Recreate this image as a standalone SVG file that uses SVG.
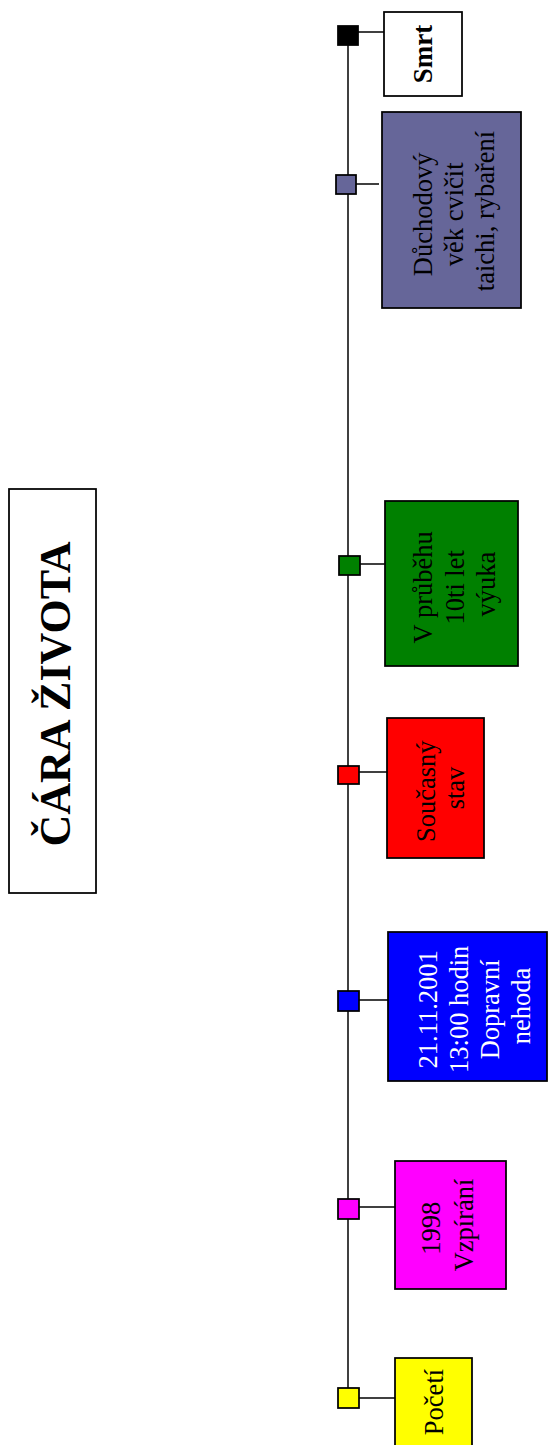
<svg xmlns="http://www.w3.org/2000/svg" width="548" height="1445" viewBox="0 0 548 1445">
  <style>
    .box { stroke: #000; stroke-width: 1.75; }
    .dot { stroke: #000; stroke-width: 1.75; }
    .link { stroke: #000; stroke-width: 1.5; fill: none; }
    .lbl { font-family: "Liberation Serif", "Times New Roman", serif; font-size: 26.5px; text-anchor: middle; fill: #000; }
    .light { fill: #fff; }
    .strong { font-weight: bold; font-size: 27px; }
    .title { font-family: "Liberation Serif", "Times New Roman", serif; font-size: 44px; font-weight: bold; text-anchor: middle; fill: #000; }
  </style>
  <rect width="548" height="1445" fill="#fff"/>

  <!-- heading -->
  <g id="title">
    <rect class="box" x="9" y="489" width="87" height="404" fill="#fff"/>
    <text class="title" transform="translate(70,694) rotate(-90)">ČÁRA ŽIVOTA</text>
  </g>

  <!-- timeline axis and ticks -->
  <g id="connectors">
    <line class="link" x1="348" y1="36" x2="348" y2="1398"/>
    <line class="link" x1="358" y1="32" x2="384" y2="32"/>
    <line class="link" x1="356" y1="184" x2="379" y2="184"/>
    <line class="link" x1="360" y1="564" x2="386" y2="564"/>
    <line class="link" x1="359" y1="772" x2="387" y2="772"/>
    <line class="link" x1="359" y1="1000" x2="388" y2="1000"/>
    <line class="link" x1="359" y1="1207" x2="395" y2="1207"/>
    <line class="link" x1="359" y1="1398" x2="395" y2="1398"/>
  </g>

  <g id="smrt">
    <rect class="dot" x="338" y="26" width="20" height="19" fill="#000"/>
    <rect class="box" x="384" y="12" width="78" height="84" fill="#fff"/>
    <text class="lbl strong" transform="translate(432,54) rotate(-90)">Smrt</text>
  </g>

  <g id="duchod">
    <rect class="dot" x="336" y="175" width="20" height="19" fill="#666699"/>
    <rect class="box" x="382" y="112" width="139" height="196" fill="#666699"/>
    <text class="lbl" transform="translate(432,211) rotate(-90)">
      <tspan x="0" y="0">Důchodový</tspan>
      <tspan x="0" y="31">věk cvičit</tspan>
      <tspan x="0" y="62">taichi, rybaření</tspan>
    </text>
  </g>

  <g id="vyuka">
    <rect class="dot" x="339" y="556" width="21" height="19" fill="#008000"/>
    <rect class="box" x="385" y="501" width="133" height="165" fill="#008000"/>
    <text class="lbl" transform="translate(432,584) rotate(-90)">
      <tspan x="0" y="0">V průběhu</tspan>
      <tspan x="0" y="31.5">10ti let</tspan>
      <tspan x="0" y="63">výuka</tspan>
    </text>
  </g>

  <g id="soucasny">
    <rect class="dot" x="338" y="766" width="21" height="18" fill="#ff0000"/>
    <rect class="box" x="387" y="718" width="97" height="140" fill="#ff0000"/>
    <text class="lbl" transform="translate(435,788) rotate(-90)">
      <tspan x="0" y="0">Současný</tspan>
      <tspan x="0" y="29">stav</tspan>
    </text>
  </g>

  <g id="nehoda">
    <rect class="dot" x="338" y="991" width="21" height="20" fill="#0000ff"/>
    <rect class="box" x="388" y="932" width="159" height="149" fill="#0000ff"/>
    <text class="lbl light" transform="translate(437,1006) rotate(-90)">
      <tspan x="0" y="0">21.11.2001</tspan>
      <tspan x="0" y="31">13:00 hodin</tspan>
      <tspan x="0" y="62">Dopravní</tspan>
      <tspan x="0" y="93">nehoda</tspan>
    </text>
  </g>

  <g id="vzpirani">
    <rect class="dot" x="338" y="1199" width="21" height="20" fill="#ff00ff"/>
    <rect class="box" x="395" y="1161" width="111" height="128" fill="#ff00ff"/>
    <text class="lbl" transform="translate(440,1225) rotate(-90)">
      <tspan x="0" y="0">1998</tspan>
      <tspan x="0" y="33">Vzpírání</tspan>
    </text>
  </g>

  <g id="poceti">
    <rect class="dot" x="338" y="1388" width="21" height="20" fill="#ffff00"/>
    <rect class="box" x="395" y="1358" width="77" height="100" fill="#ffff00"/>
    <text class="lbl" transform="translate(443,1402) rotate(-90)">Početí</text>
  </g>
</svg>
